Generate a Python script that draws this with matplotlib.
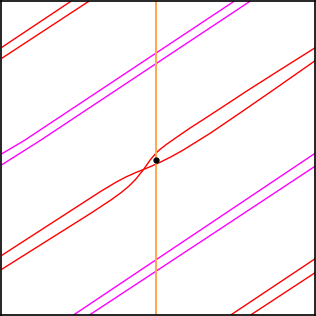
import matplotlib
matplotlib.use("Agg")
import matplotlib.pyplot as plt

# coordinates (pixel units, y grows downward)
# two branches crossing near the centre
branch_a_x = [1, 100, 115, 125, 135, 143, 150, 160, 170, 182, 210, 240, 272, 315]
branch_a_y = [255, 191, 182, 176.7, 172.2, 169, 166.1, 161.6, 156.6, 150, 132.6, 112.2, 90.1, 60]
branch_b_x = [1, 90, 110, 120, 128, 135, 143, 150, 156, 160, 166, 175, 190, 202, 225, 247, 280, 315]
branch_b_y = [269, 213, 199.8, 192.6, 186, 179, 169, 159, 152, 148.5, 143.8, 137.5, 127.2, 119.5,
              104.5, 90, 69, 47]

# straight red pairs (top-left and bottom-right copies)
red_tl_x = [[1, 70], [1, 88]]
red_tl_y = [[46, 0], [57, 0]]
red_br_x = [[231, 315], [251, 315]]
red_br_y = [[315, 259], [315, 273]]

# magenta pairs
mag_top_x = [[1, 23, 234], [1, 39, 250]]
mag_top_y = [[153, 140, 0], [164, 140, 0]]
mag_bot_x = [[73, 206, 315], [89, 206, 315]]
mag_bot_y = [[315, 226, 153], [315, 238, 166]]

vline_x = 155.5
point_x, point_y = 155.5, 160

fig = plt.figure(figsize=(3.16, 3.16), dpi=100)
ax = fig.add_axes([0.004, 0.004, 0.992, 0.992])

ax.plot(branch_a_x, branch_a_y, color='#ff0000', lw=1.0)
ax.plot(branch_b_x, branch_b_y, color='#ff0000', lw=1.0)
for xs, ys in zip(red_tl_x + red_br_x, red_tl_y + red_br_y):
    ax.plot(xs, ys, color='#ff0000', lw=1.0)
for xs, ys in zip(mag_top_x + mag_bot_x, mag_top_y + mag_bot_y):
    ax.plot(xs, ys, color='#ff00ff', lw=1.0)

ax.axvline(vline_x, color='#ffa64d', lw=1.4)
ax.plot(point_x, point_y, 'o', color='black', ms=3.5)

ax.set_xlim(0, 315)
ax.set_ylim(315, 0)
ax.set_xticks([])
ax.set_yticks([])
for s in ax.spines.values():
    s.set_color('black')
    s.set_linewidth(1.2)

fig.savefig('out.png', dpi=100)
